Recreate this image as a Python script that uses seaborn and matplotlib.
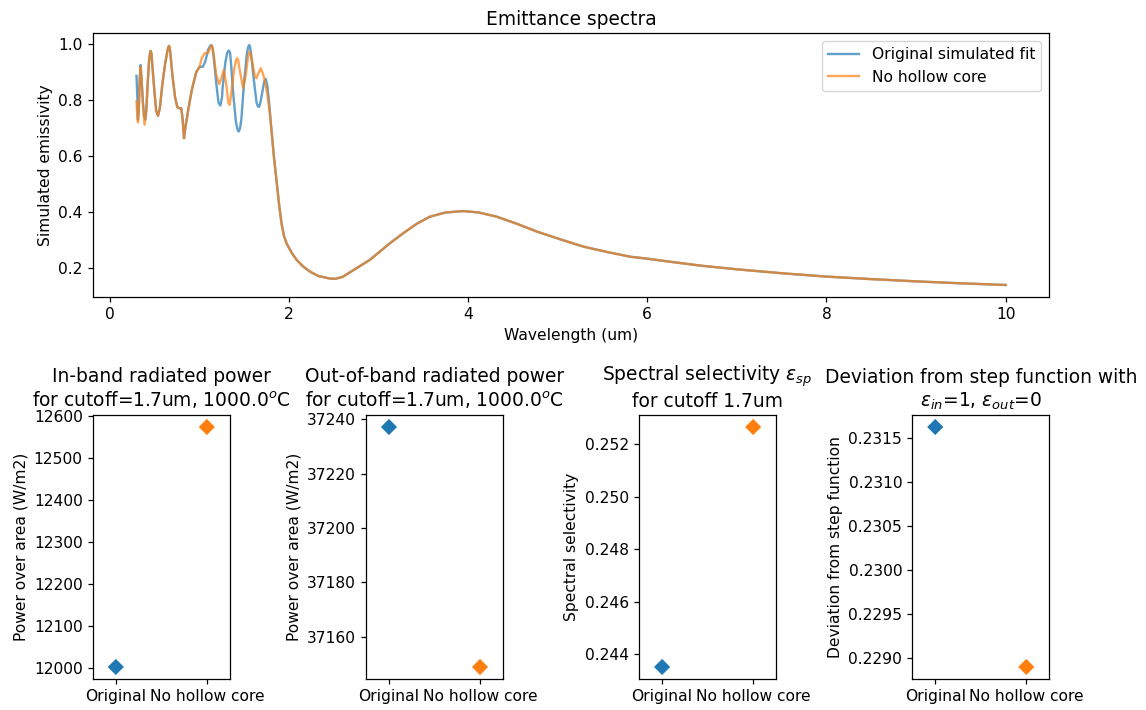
import matplotlib
matplotlib.use("Agg")
import matplotlib.pyplot as plt
from matplotlib.gridspec import GridSpec
import seaborn as sns

# Emittance spectra (wavelength in um, emissivity)
wl_orig = [0.30, 0.31, 0.316, 0.325, 0.335, 0.346, 0.355, 0.37, 0.385, 0.398,
           0.41, 0.425, 0.44, 0.45, 0.458, 0.467, 0.475, 0.50, 0.52, 0.54,
           0.56, 0.59, 0.62, 0.645, 0.655, 0.663, 0.671, 0.68, 0.70, 0.73,
           0.755, 0.775, 0.80, 0.815, 0.83, 0.845, 0.88, 0.92, 0.968, 1.00,
           1.043, 1.07, 1.10, 1.12, 1.136, 1.148, 1.16, 1.19, 1.215, 1.236,
           1.255, 1.26, 1.29, 1.31, 1.322, 1.333, 1.344, 1.355, 1.38, 1.41,
           1.428, 1.441, 1.455, 1.47, 1.50, 1.53, 1.545, 1.557, 1.569, 1.58,
           1.61, 1.64, 1.655, 1.668, 1.682, 1.70, 1.725, 1.743, 1.76, 1.78,
           1.806, 1.83, 1.862, 1.89, 1.918, 1.945, 1.974, 2.03, 2.086, 2.16,
           2.235, 2.33, 2.458, 2.52, 2.60, 2.756, 2.905, 3.128, 3.277, 3.43,
           3.575, 3.75, 3.948, 4.12, 4.32, 4.55, 4.767, 5.03, 5.288, 5.55,
           5.81, 6.0, 6.257, 6.6, 7.0, 7.5, 8.0, 8.5, 9.0, 9.5,
           10.0]
em_orig = [0.886, 0.80, 0.73, 0.76, 0.87, 0.925, 0.88, 0.80, 0.74, 0.73,
           0.77, 0.86, 0.94, 0.965, 0.975, 0.965, 0.93, 0.83, 0.76, 0.743,
           0.77, 0.86, 0.93, 0.975, 0.988, 0.993, 0.985, 0.96, 0.89, 0.81,
           0.775, 0.770, 0.770, 0.73, 0.663, 0.70, 0.77, 0.84, 0.90, 0.917,
           0.919, 0.94, 0.98, 0.992, 0.996, 0.988, 0.96, 0.86, 0.79, 0.78,
           0.81, 0.84, 0.93, 0.965, 0.974, 0.976, 0.968, 0.93, 0.82, 0.72,
           0.693, 0.687, 0.698, 0.73, 0.86, 0.96, 0.988, 0.996, 0.987, 0.96,
           0.87, 0.79, 0.777, 0.775, 0.79, 0.82, 0.865, 0.875, 0.85, 0.79,
           0.693, 0.61, 0.514, 0.43, 0.36, 0.315, 0.288, 0.255, 0.229, 0.205,
           0.187, 0.171, 0.162, 0.161, 0.168, 0.199, 0.229, 0.288, 0.324, 0.358,
           0.383, 0.398, 0.403, 0.398, 0.383, 0.357, 0.330, 0.302, 0.276, 0.257,
           0.240, 0.233, 0.222, 0.208, 0.195, 0.181, 0.169, 0.160, 0.152, 0.145,
           0.139]

wl_nocore = [0.30, 0.31, 0.316, 0.325, 0.335, 0.346, 0.355, 0.37, 0.39, 0.41,
             0.425, 0.44, 0.45, 0.458, 0.467, 0.475, 0.50, 0.52, 0.54, 0.56,
             0.59, 0.62, 0.645, 0.655, 0.663, 0.671, 0.68, 0.70, 0.73, 0.755,
             0.775, 0.80, 0.815, 0.83, 0.845, 0.88, 0.92, 0.968, 1.00, 1.03,
             1.061, 1.10, 1.12, 1.136, 1.148, 1.16, 1.19, 1.222, 1.25, 1.274,
             1.30, 1.325, 1.341, 1.36, 1.39, 1.41, 1.423, 1.436, 1.45, 1.49,
             1.52, 1.545, 1.564, 1.59, 1.62, 1.639, 1.66, 1.687, 1.71, 1.735,
             1.76, 1.785, 1.81, 1.835, 1.862, 1.89, 1.918, 1.945, 1.974, 2.03,
             2.086, 2.16, 2.235, 2.33, 2.458, 2.52, 2.60, 2.756, 2.905, 3.128,
             3.277, 3.43, 3.575, 3.75, 3.948, 4.12, 4.32, 4.55, 4.767, 5.03,
             5.288, 5.55, 5.81, 6.0, 6.257, 6.6, 7.0, 7.5, 8.0, 8.5,
             9.0, 9.5, 10.0]
em_nocore = [0.794, 0.74, 0.72, 0.76, 0.87, 0.919, 0.88, 0.79, 0.711, 0.76,
             0.86, 0.94, 0.965, 0.975, 0.965, 0.93, 0.83, 0.76, 0.743, 0.77,
             0.86, 0.93, 0.975, 0.988, 0.993, 0.985, 0.96, 0.89, 0.81, 0.775,
             0.770, 0.770, 0.73, 0.663, 0.70, 0.77, 0.84, 0.90, 0.915, 0.95,
             0.967, 0.968, 0.985, 0.994, 0.985, 0.96, 0.89, 0.856, 0.88, 0.907,
             0.86, 0.79, 0.782, 0.83, 0.91, 0.94, 0.949, 0.94, 0.91, 0.842,
             0.89, 0.955, 0.973, 0.94, 0.885, 0.877, 0.895, 0.913, 0.895, 0.865,
             0.82, 0.76, 0.68, 0.59, 0.514, 0.43, 0.36, 0.315, 0.288, 0.255,
             0.229, 0.205, 0.187, 0.171, 0.162, 0.161, 0.168, 0.199, 0.229, 0.288,
             0.324, 0.358, 0.383, 0.398, 0.403, 0.398, 0.383, 0.357, 0.330, 0.302,
             0.276, 0.257, 0.240, 0.233, 0.222, 0.208, 0.195, 0.181, 0.169, 0.160,
             0.152, 0.145, 0.139]

# Figures of merit for the two designs
designs = ["Original", "No hollow core"]
inband_power = [12002, 12573]
outband_power = [37237.1, 37148.9]
selectivity = [0.243519, 0.252645]
step_deviation = [0.231625, 0.228893]

colors = ["#1f77b4", "#ff7f0e"]

plt.rcParams.update({
    "font.size": 11.2,
    "axes.titlesize": 13.4,
    "axes.labelsize": 11.2,
    "xtick.labelsize": 11.2,
    "ytick.labelsize": 11.2,
    "legend.fontsize": 11.2,
    "axes.linewidth": 0.9,
    "xtick.major.width": 0.9,
    "ytick.major.width": 0.9,
    "xtick.major.size": 3.9,
    "ytick.major.size": 3.9,
})

fig = plt.figure(figsize=(11.46, 7.10), dpi=100)
gs = GridSpec(2, 4, figure=fig, left=0.0812, right=0.9154, top=0.9535,
              bottom=0.0437, wspace=1.0, hspace=0.447)

ax_top = fig.add_subplot(gs[0, :])
sns.lineplot(x=wl_orig, y=em_orig, ax=ax_top, color=colors[0], alpha=0.7,
             linewidth=1.7, label="Original simulated fit")
sns.lineplot(x=wl_nocore, y=em_nocore, ax=ax_top, color=colors[1], alpha=0.7,
             linewidth=1.7, label="No hollow core")
ax_top.set_title("Emittance spectra")
ax_top.set_xlabel("Wavelength (um)")
ax_top.set_ylabel("Simulated emissivity")
ax_top.legend(loc="upper right")

panels = [
    (inband_power, "In-band radiated power\nfor cutoff=1.7um, 1000.0$^o$C",
     "Power over area (W/m2)"),
    (outband_power, "Out-of-band radiated power\nfor cutoff=1.7um, 1000.0$^o$C",
     "Power over area (W/m2)"),
    (selectivity, "Spectral selectivity $\\varepsilon_{sp}$\nfor cutoff 1.7um",
     "Spectral selectivity"),
    (step_deviation,
     "Deviation from step function with\n$\\varepsilon_{in}$=1, $\\varepsilon_{out}$=0",
     "Deviation from step function"),
]

for i, (vals, title, ylabel) in enumerate(panels):
    ax = fig.add_subplot(gs[1, i])
    sns.scatterplot(x=designs, y=vals, hue=designs, palette=colors,
                    marker="D", s=80, ax=ax, legend=False)
    ax.set_xlim(-0.25, 1.25)
    ax.set_title(title)
    ax.set_ylabel(ylabel)
    ax.set_xlabel("")

fig.savefig("out.png", dpi=100)
